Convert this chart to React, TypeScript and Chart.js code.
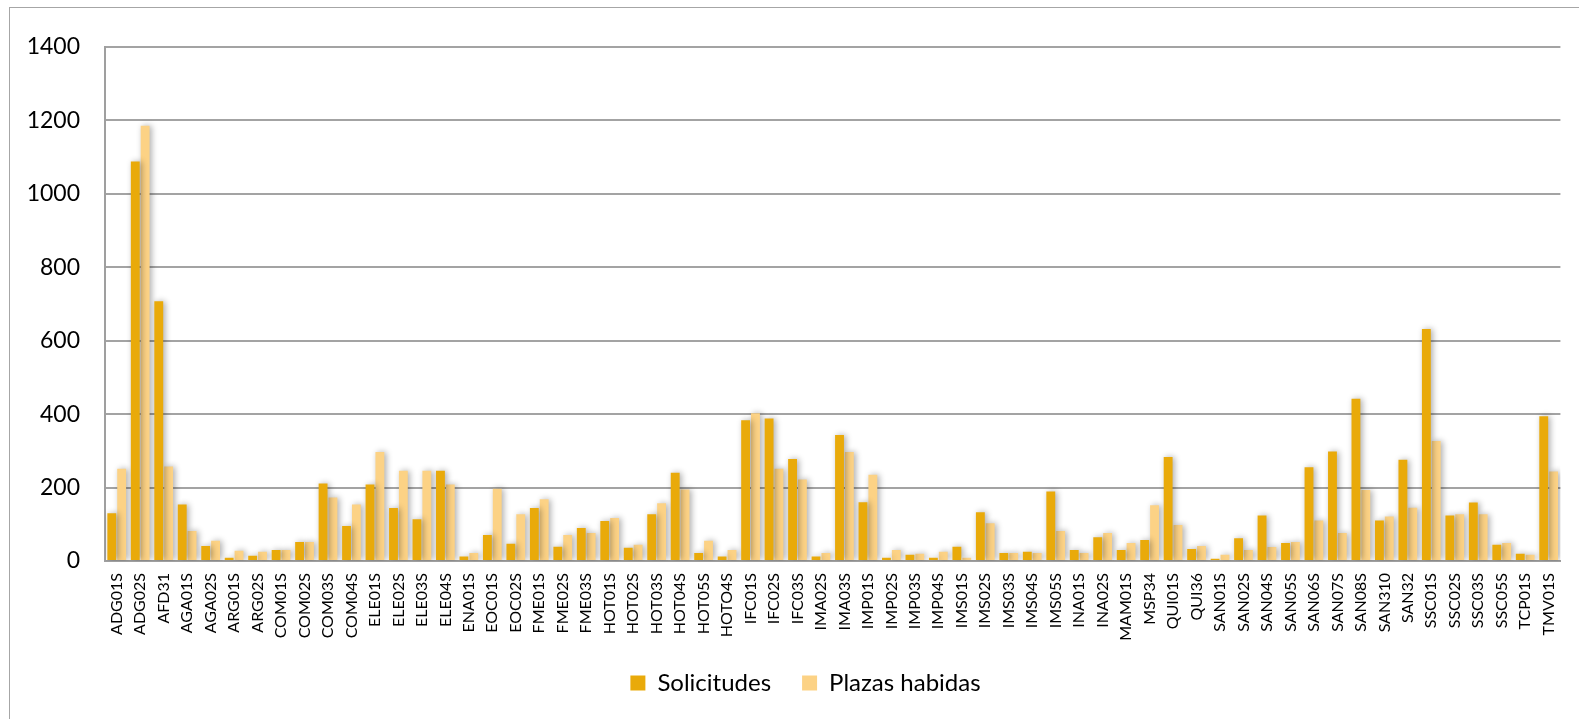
import React, { useEffect, useRef } from "react";
import { Chart, registerables } from "chart.js";

Chart.register(...registerables);

const categories = [
  "ADG01S", "ADG02S", "AFD31", "AGA01S", "AGA02S", "ARG01S", "ARG02S", "COM01S", "COM02S", "COM03S",
  "COM04S", "ELE01S", "ELE02S", "ELE03S", "ELE04S", "ENA01S", "EOC01S", "EOC02S", "FME01S", "FME02S",
  "FME03S", "HOT01S", "HOT02S", "HOT03S", "HOT04S", "HOT05S", "HOTO4S", "IFC01S", "IFC02S", "IFC03S",
  "IMA02S", "IMA03S", "IMP01S", "IMP02S", "IMP03S", "IMP04S", "IMS01S", "IMS02S", "IMS03S", "IMS04S",
  "IMS05S", "INA01S", "INA02S", "MAM01S", "MSP34", "QUI01S", "QUI36", "SAN01S", "SAN02S", "SAN04S",
  "SAN05S", "SAN06S", "SAN07S", "SAN08S", "SAN310", "SAN32", "SSC01S", "SSC02S", "SSC03S", "SSC05S",
  "TCP01S", "TMV01S",
];

const solicitudes = [
  130, 1088, 707, 154, 41, 9, 14, 30, 52, 211,
  95, 208, 144, 114, 246, 12, 71, 47, 144, 39,
  90, 109, 36, 127, 240, 22, 12, 383, 388, 278,
  12, 343, 160, 9, 17, 9, 39, 133, 22, 25,
  189, 30, 65, 30, 57, 283, 33, 6, 62, 124,
  49, 255, 298, 442, 110, 276, 632, 124, 159, 44,
  20, 394,
];

const plazasHabidas = [
  251, 1185, 257, 82, 55, 28, 25, 30, 52, 173,
  154, 297, 246, 246, 208, 22, 197, 127, 168, 71,
  76, 117, 44, 157, 195, 55, 30, 402, 251, 222,
  22, 297, 235, 30, 20, 25, 9, 103, 22, 22,
  82, 22, 76, 49, 152, 98, 41, 17, 30, 38,
  52, 110, 76, 193, 121, 145, 327, 127, 127, 49,
  17, 244,
];

const seriesLabels = ["Solicitudes", "Plazas habidas"];

const FONT = "Lato, 'Open Sans', sans-serif";

const shadowPlugin = {
  id: "barShadow",
  beforeDatasetsDraw(chart: any) {
    const c = chart.ctx;
    c.save();
    c.shadowColor = "rgba(0,0,0,0.33)";
    c.shadowBlur = 6;
    c.shadowOffsetX = 2;
    c.shadowOffsetY = 0;
  },
  afterDatasetsDraw(chart: any) {
    chart.ctx.restore();
  },
};

// shift the legend block so it is centred like the original
const legendShiftPlugin = {
  id: "legendShift",
  afterLayout(chart: any) {
    if (chart.legend) {
      chart.legend.left += 37;
    }
  },
};

export default function App() {
  const canvasRef = useRef<HTMLCanvasElement | null>(null);

  useEffect(() => {
    document.body.style.margin = "0";
    const canvas = canvasRef.current;
    if (!canvas) return;
    const chart = new Chart(canvas, {
      type: "bar",
      data: {
        labels: categories,
        datasets: [
          {
            label: seriesLabels[0],
            data: solicitudes,
            backgroundColor: "#e9aa0a",
            borderWidth: 0,
            barPercentage: 0.9,
            categoryPercentage: 0.84,
          },
          {
            label: seriesLabels[1],
            data: plazasHabidas,
            backgroundColor: "#fcd285",
            borderWidth: 0,
            barPercentage: 0.9,
            categoryPercentage: 0.84,
          },
        ],
      },
      plugins: [shadowPlugin, legendShiftPlugin],
      options: {
        responsive: false,
        animation: false,
        devicePixelRatio: 1,
        layout: { padding: { left: 0, right: 16, top: 29, bottom: 14 } },
        plugins: {
          tooltip: { enabled: false },
          legend: {
            display: true,
            position: "bottom",
            labels: {
              boxWidth: 15,
              boxHeight: 15,
              padding: 31,
              color: "#000",
              font: { family: FONT, size: 24 },
            },
          },
        },
        scales: {
          x: {
            grid: { display: false, drawTicks: false },
            border: { display: true, color: "#9f9f9f", width: 2 },
            ticks: {
              autoSkip: false,
              maxRotation: 90,
              minRotation: 90,
              padding: 12,
              color: "#000",
              font: { family: FONT, size: 16 },
            },
            afterFit(scale: any) {
              scale.height = 79;
            },
          },
          y: {
            min: 0,
            max: 1400,
            ticks: {
              stepSize: 200,
              padding: 25,
              color: "#000",
              font: { family: FONT, size: 23 },
              callback: (v: any) => String(v),
            },
            grid: { color: "#a3a3a3", lineWidth: 2, drawTicks: false },
            border: { display: true, color: "#9f9f9f", width: 2 },
            afterFit(scale: any) {
              scale.width = 95;
            },
          },
        },
      },
    });
    return () => chart.destroy();
  }, []);

  return (
    <div
      style={{
        position: "absolute",
        left: 9,
        top: 7,
        width: 1580,
        height: 720,
        border: "1px solid #a6a6a6",
        background: "#fff",
      }}
    >
      <canvas ref={canvasRef} width={1570} height={711} style={{ display: "block" }} />
    </div>
  );
}
